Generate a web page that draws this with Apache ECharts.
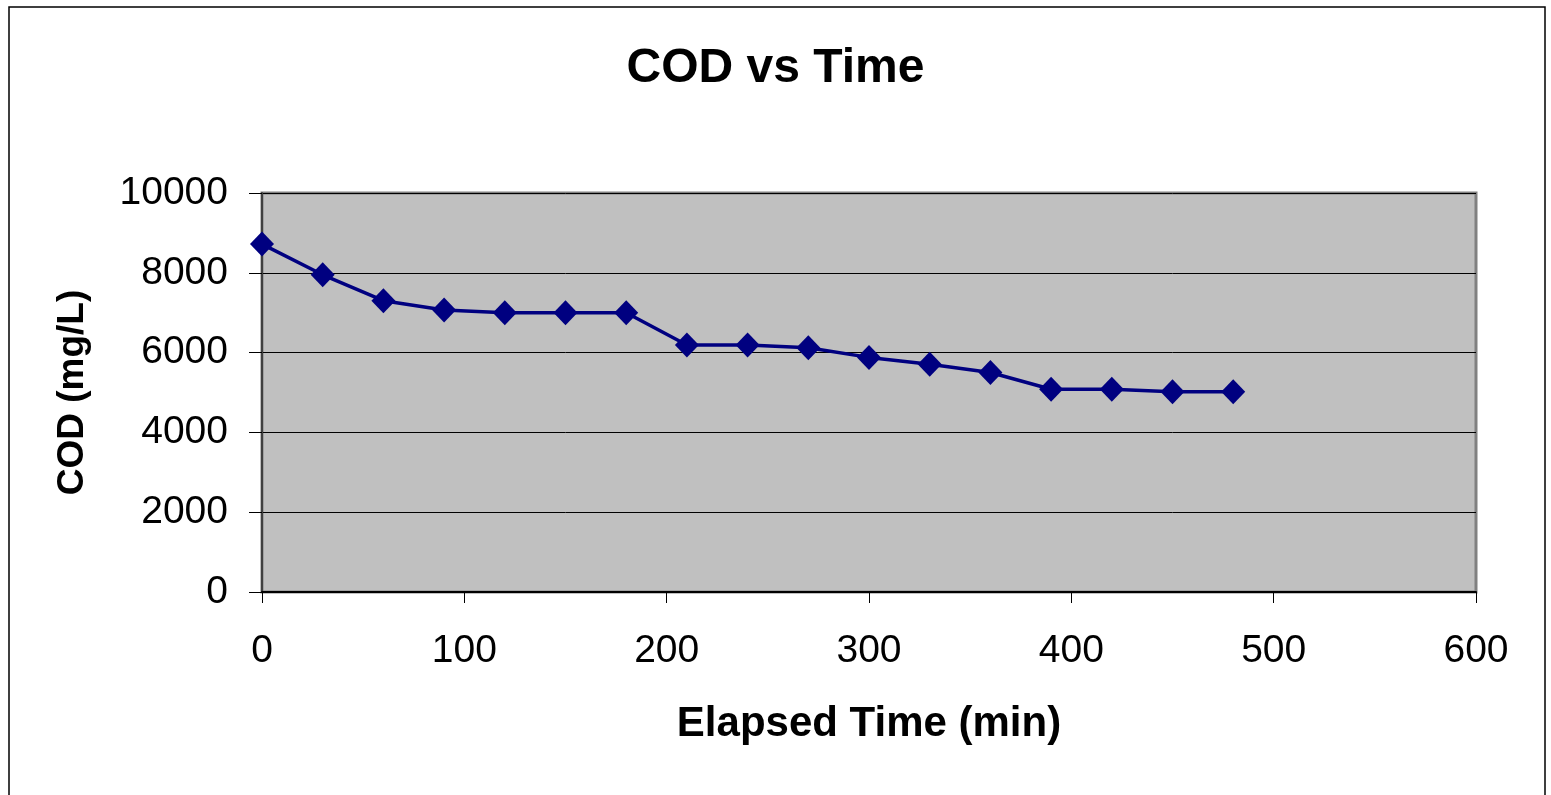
<!DOCTYPE html>
<html>
<head>
<meta charset="utf-8">
<script src="https://cdn.jsdelivr.net/npm/echarts@6/dist/echarts.min.js"></script>
<style>
html,body{margin:0;padding:0;background:#fff;}
#c{width:1551px;height:795px;}
</style>
</head>
<body>
<div id="c"></div>
<script>
const times = [0, 30, 60, 90, 120, 150, 180, 210, 240, 270, 300, 330, 360, 390, 420, 450, 480];
const cod = [8720, 7950, 7300, 7070, 7000, 7000, 7000, 6190, 6190, 6120, 5880, 5710, 5500, 5080, 5080, 5020, 5020];
const titleText = 'COD vs Time';
const xName = 'Elapsed Time (min)';
const yName = 'COD (mg/L)';

const chart = echarts.init(document.getElementById('c'), null, {renderer: 'canvas'});
const font = '"Liberation Sans", Arial, sans-serif';
chart.setOption({
  animation: false,
  backgroundColor: '#fff',
  graphic: [{
    type: 'rect', z: 100, silent: true,
    shape: {x: 9, y: 7, width: 1536, height: 800},
    style: {fill: 'none', stroke: '#000', lineWidth: 1.5}
  }],
  title: {
    text: titleText, left: 'center', top: 40,
    textStyle: {fontFamily: font, fontWeight: 'bold', fontSize: 48, color: '#000'}
  },
  grid: {
    left: 262, right: 75, top: 193, bottom: 203,
    show: true, backgroundColor: '#c0c0c0', borderColor: '#808080', borderWidth: 3
  },
  xAxis: {
    type: 'value', min: 0, max: 600, interval: 100,
    name: xName, nameLocation: 'middle', nameGap: 111,
    nameTextStyle: {fontFamily: font, fontWeight: 'bold', fontSize: 42, color: '#000'},
    axisLine: {show: true, onZero: false, lineStyle: {color: '#000', width: 2}},
    axisTick: {show: true, length: 11, lineStyle: {color: '#000', width: 1}},
    axisLabel: {margin: 40, fontFamily: font, fontSize: 39, color: '#000'},
    splitLine: {show: false}
  },
  yAxis: {
    type: 'value', min: 0, max: 10000, interval: 2000,
    name: yName, nameLocation: 'middle', nameGap: 171,
    nameTextStyle: {fontFamily: font, fontWeight: 'bold', fontSize: 37, color: '#000'},
    axisLine: {show: true, lineStyle: {color: '#404040', width: 2}},
    axisTick: {show: true, length: 13, lineStyle: {color: '#000', width: 1}},
    axisLabel: {margin: 34, fontFamily: font, fontSize: 39, color: '#000', formatter: v => String(v)},
    splitLine: {show: true, lineStyle: {color: '#000', width: 1}}
  },
  series: [{
    type: 'line',
    data: times.map((t, i) => [t, cod[i]]),
    symbol: 'diamond', symbolSize: [24, 25],
    lineStyle: {color: '#000080', width: 3.5},
    itemStyle: {color: '#000080'},
    clip: false
  }]
});
</script>
</body>
</html>
